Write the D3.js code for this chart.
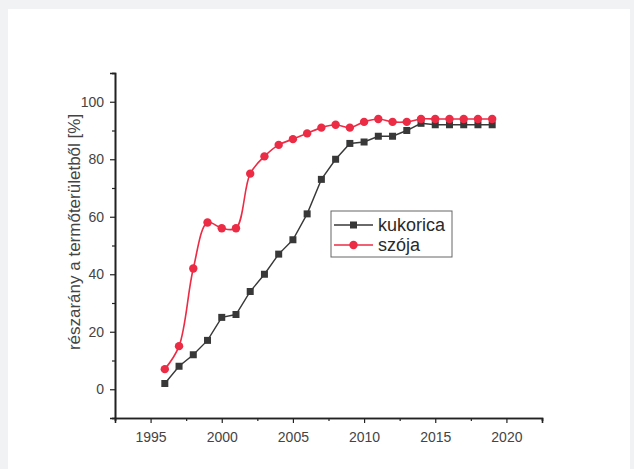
<!DOCTYPE html>
<html>
<head>
<meta charset="utf-8">
<script src="https://cdn.jsdelivr.net/npm/d3@7"></script>
<style>
  html, body { margin: 0; padding: 0; background: #f1f2f4; }
  svg { display: block; }
</style>
</head>
<body>
<svg id="chart" width="634" height="469"></svg>
<script>
// Years of observation
const years = [1996, 1997, 1998, 1999, 2000, 2001, 2002, 2003, 2004, 2005, 2006, 2007,
               2008, 2009, 2010, 2011, 2012, 2013, 2014, 2015, 2016, 2017, 2018, 2019];
// Share of sown area [%]
const kukorica = [2, 8, 12, 17, 25, 26, 34, 40, 47, 52, 61, 73,
                  80, 85.5, 86, 88, 88, 90, 92.5, 92, 92, 92, 92, 92];
const szoja = [7, 15, 42, 58, 56, 56, 75, 81, 85, 87, 89, 91,
               92, 91, 93, 94, 93, 93, 94, 94, 94, 94, 94, 94];
const seriesNames = ["kukorica", "szója"];
const xTicks = [1995, 2000, 2005, 2010, 2015, 2020];
const yTicks = [0, 20, 40, 60, 80, 100];
const yLabel = "részarány a termőterületből [%]";

const svg = d3.select("#chart");

// white page panel
svg.append("rect").attr("x", 8).attr("y", 9).attr("width", 622).attr("height", 460).attr("fill", "#ffffff");

const x = d3.scaleLinear().domain([1992.5, 2022.5]).range([115, 542]);
const y = d3.scaleLinear().domain([-10, 110]).range([418, 73]);

const axisColor = "#222";
const labelColor = "#444";
const font = "Liberation Sans, Arial, sans-serif";

// x axis: major ticks every 5 years, minor ticks in between
const xMinor = d3.range(1992.5, 2022.6, 5);
const gx = svg.append("g").attr("transform", `translate(0,${y.range()[0]})`);
gx.call(d3.axisBottom(x).tickValues(xMinor).tickSize(3).tickFormat(""));
gx.call(g => g.append("g").call(d3.axisBottom(x).tickValues(xTicks).tickSize(5).tickPadding(9).tickFormat(d3.format("d"))));
gx.selectAll("path.domain").attr("stroke", axisColor).attr("stroke-width", 1.6);
gx.selectAll("line").attr("stroke", axisColor).attr("stroke-width", 1.2);
gx.selectAll("text").attr("fill", labelColor).style("font-family", font).style("font-size", "14px");

// y axis
const yMinor = d3.range(-10, 111, 20);
const gy = svg.append("g").attr("transform", `translate(${x.range()[0]},0)`);
gy.call(d3.axisLeft(y).tickValues(yMinor).tickSize(3).tickFormat(""));
gy.call(g => g.append("g").call(d3.axisLeft(y).tickValues(yTicks).tickSize(5).tickPadding(6).tickFormat(d3.format("d"))));
gy.selectAll("path.domain").attr("stroke", axisColor).attr("stroke-width", 1.6);
gy.selectAll("line").attr("stroke", axisColor).attr("stroke-width", 1.2);
gy.selectAll("text").attr("fill", labelColor).style("font-family", font).style("font-size", "14px");

svg.append("text")
  .attr("transform", `translate(76,232) rotate(-90)`)
  .attr("text-anchor", "middle")
  .attr("dominant-baseline", "middle")
  .attr("fill", labelColor)
  .style("font-family", font).style("font-size", "17px")
  .text(yLabel);

const blackC = "#383838";
const redC = "#ec2b45";

// kukorica: straight segments with square markers
const dK = years.map((yr, i) => [yr, kukorica[i]]);
svg.append("path")
  .attr("d", d3.line().x(d => x(d[0])).y(d => y(d[1]))(dK))
  .attr("fill", "none").attr("stroke", blackC).attr("stroke-width", 1.4);
svg.append("g").selectAll("rect").data(dK).join("rect")
  .attr("x", d => x(d[0]) - 3.5).attr("y", d => y(d[1]) - 3.5)
  .attr("width", 7).attr("height", 7).attr("fill", blackC);

// szója: smoothed curve with round markers
const dS = years.map((yr, i) => [yr, szoja[i]]);
svg.append("path")
  .attr("d", d3.line().curve(d3.curveCatmullRom.alpha(0.5)).x(d => x(d[0])).y(d => y(d[1]))(dS))
  .attr("fill", "none").attr("stroke", redC).attr("stroke-width", 1.6);
svg.append("g").selectAll("circle").data(dS).join("circle")
  .attr("cx", d => x(d[0])).attr("cy", d => y(d[1]))
  .attr("r", 4.2).attr("fill", redC);

// legend
const lg = svg.append("g");
lg.append("rect").attr("x", 331).attr("y", 211).attr("width", 121).attr("height", 46)
  .attr("fill", "#fff").attr("stroke", "#666").attr("stroke-width", 1);
const entries = [
  { name: seriesNames[0], color: blackC, shape: "square", cy: 225 },
  { name: seriesNames[1], color: redC, shape: "circle", cy: 245 }
];
entries.forEach(e => {
  lg.append("line").attr("x1", 334).attr("x2", 373).attr("y1", e.cy).attr("y2", e.cy)
    .attr("stroke", e.color).attr("stroke-width", 1.5);
  if (e.shape === "square") {
    lg.append("rect").attr("x", 350).attr("y", e.cy - 3.5).attr("width", 7).attr("height", 7).attr("fill", e.color);
  } else {
    lg.append("circle").attr("cx", 353.5).attr("cy", e.cy).attr("r", 4.2).attr("fill", e.color);
  }
  lg.append("text").attr("x", 378).attr("y", e.cy).attr("dominant-baseline", "central")
    .attr("fill", "#2a2a2a").style("font-family", font).style("font-size", "18px").text(e.name);
});
</script>
</body>
</html>
